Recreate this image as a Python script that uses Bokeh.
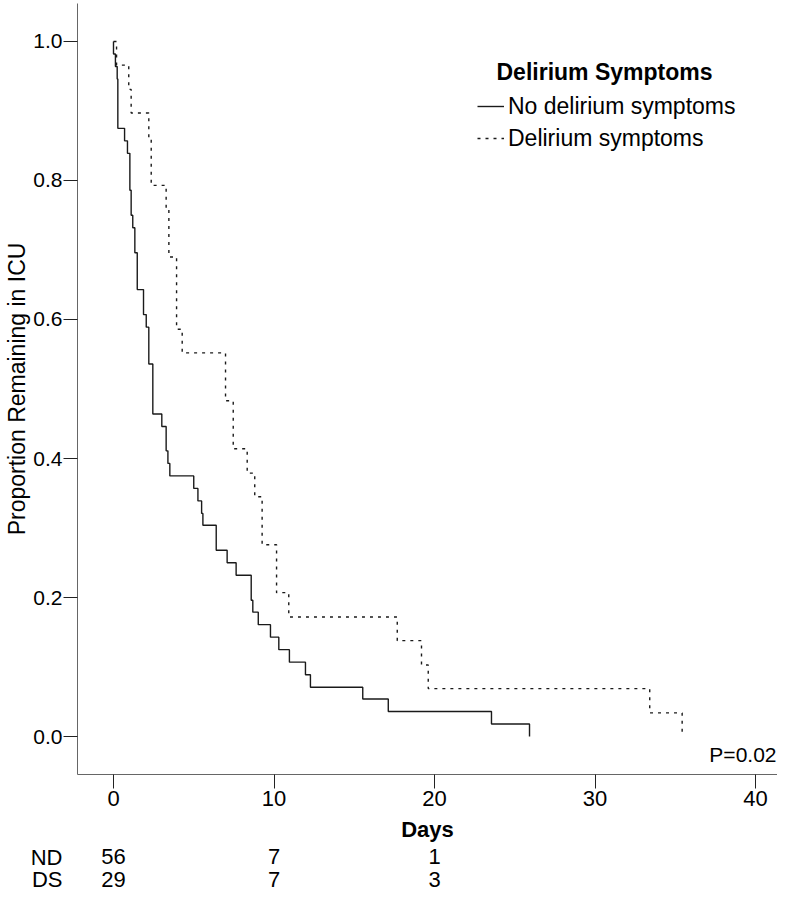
from bokeh.plotting import figure
from bokeh.layouts import column
from bokeh.models import (Range1d, FactorRange, FixedTicker, Label, ColumnDataSource,
                          Legend, LegendItem, PrintfTickFormatter)
from bokeh.core.properties import value
from bokeh.embed import file_html
from bokeh.resources import INLINE

# ---------------- data ----------------
series_names = ["No delirium symptoms", "Delirium symptoms"]
legend_title = "Delirium Symptoms"

nd_days = [0, 0.00, 0.12, 0.23, 0.27, 0.69, 0.87, 1.02, 1.10, 1.20,
           1.33, 1.48, 1.87, 2.04, 2.20, 2.45, 3.01, 3.28, 3.39, 3.51,
           5.00, 5.26, 5.49, 5.57, 6.40, 7.08, 7.64, 8.58, 8.68, 9.02,
           9.78, 10.30, 10.96, 11.96, 12.27, 15.53, 17.12, 23.55, 25.92]
nd_surv = [1.0, 0.982, 0.964, 0.946, 0.875, 0.857, 0.839, 0.786, 0.750, 0.732,
           0.696, 0.643, 0.607, 0.589, 0.536, 0.464, 0.446, 0.411, 0.393, 0.375,
           0.357, 0.339, 0.321, 0.304, 0.268, 0.250, 0.232, 0.196, 0.179, 0.161,
           0.143, 0.125, 0.107, 0.089, 0.071, 0.054, 0.036, 0.018, 0.0]

ds_days = [0, 0.19, 0.95, 1.10, 2.20, 2.35, 3.28, 3.45, 3.93, 4.28, 6.98,
           7.46, 8.33, 8.80, 9.26, 10.16, 10.92, 17.68, 19.19, 19.61, 33.41, 35.43]
ds_surv = [1.0, 0.966, 0.931, 0.897, 0.862, 0.793, 0.759, 0.690, 0.586, 0.552, 0.483,
           0.414, 0.379, 0.345, 0.276, 0.207, 0.172, 0.138, 0.103, 0.069, 0.034, 0.0]

x_ticks = [0, 10, 20, 30, 40]
y_ticks = [0.0, 0.2, 0.4, 0.6, 0.8, 1.0]

risk_days = [0, 10, 20]
nd_at_risk = ["56", "7", "1"]
ds_at_risk = ["29", "7", "3"]
risk_row_names = ["ND", "DS"]
p_value_text = "P=0.02"

SANS = "Liberation Sans"

# ---------------- layout constants (pixels) ----------------
W = 777
BORDER_L = 77
BORDER_T = 3
FRAME_B = 775                     # canvas y of frame bottom
Y_ONE_PX, Y_ZERO_PX = 41, 737     # canvas y of 1.0 and 0.0
MAIN_H = 844
TABLE_H = 47
PX_PER_DAY = 16.05
ZERO_PX = 113                     # canvas x of day 0

x_rng = Range1d((BORDER_L - ZERO_PX) / PX_PER_DAY, (W - ZERO_PX) / PX_PER_DAY)
u = Y_ZERO_PX - Y_ONE_PX
y_rng = Range1d(-(FRAME_B - Y_ZERO_PX) / u, 1 + (Y_ONE_PX - BORDER_T) / u)

# ---------------- main figure ----------------
p = figure(width=W, height=MAIN_H, output_backend="svg", toolbar_location=None,
           x_range=x_rng, y_range=y_rng,
           min_border_left=BORDER_L, min_border_right=0, min_border_top=BORDER_T,
           min_border_bottom=0)
p.outline_line_color = None
p.xgrid.visible = False
p.ygrid.visible = False

r1 = p.step(nd_days, nd_surv, mode="after", line_color="#1a1a1a", line_width=1.4)
r2 = p.step(ds_days, ds_surv, mode="after", line_color="#1a1a1a", line_width=1.4,
            line_dash="3 5")

xa = p.xaxis[0]
xa.ticker = FixedTicker(ticks=x_ticks)
xa.axis_label = "Days"
xa.axis_label_text_font = SANS
xa.axis_label_text_font_style = "bold"
xa.axis_label_text_font_size = "22px"
xa.axis_label_text_color = "black"
xa.axis_label_standoff = 8
xa.major_label_text_font = SANS
xa.major_label_text_font_size = "22px"
xa.major_label_text_color = "black"
xa.major_label_standoff = 2
xa.major_tick_out = 14
xa.major_tick_in = 0
xa.minor_tick_out = 0
xa.minor_tick_in = 0
xa.axis_line_color = "#666666"
xa.major_tick_line_color = "#222222"

ya = p.yaxis[0]
ya.ticker = FixedTicker(ticks=y_ticks)
ya.formatter = PrintfTickFormatter(format="%.1f")
ya.axis_label = "Proportion Remaining in ICU"
ya.axis_label_text_font = SANS
ya.axis_label_text_font_style = "normal"
ya.axis_label_text_font_size = "23px"
ya.axis_label_text_color = "black"
ya.axis_label_standoff = 0
ya.major_label_text_font = SANS
ya.major_label_text_font_size = "21px"
ya.major_label_text_color = "black"
ya.major_label_standoff = 1
ya.major_tick_out = 14
ya.major_tick_in = 0
ya.minor_tick_out = 0
ya.minor_tick_in = 0
ya.axis_line_color = "#666666"
ya.major_tick_line_color = "#222222"

legend = Legend(items=[LegendItem(label=series_names[0], renderers=[r1]),
                       LegendItem(label=series_names[1], renderers=[r2])],
                location=(400, 620), padding=0, margin=0, spacing=0,
                border_line_color=None, background_fill_alpha=0,
                glyph_width=27, glyph_height=32, label_standoff=4,
                label_text_font=SANS, label_text_font_size="23px",
                label_text_color="black")
p.add_layout(legend)

p.add_layout(Label(x=419, y=703, x_units="screen", y_units="screen",
                   text=legend_title, text_font=SANS, text_font_style="bold",
                   text_font_size="23px", text_baseline="middle", text_color="black"))

p.add_layout(Label(x=699, y=20, x_units="screen", y_units="screen",
                   text=p_value_text, text_font=SANS, text_font_size="21px",
                   text_align="right", text_baseline="middle", text_color="black"))

# ---------------- at-risk table ----------------
t = figure(width=W, height=TABLE_H, output_backend="svg", toolbar_location=None,
           x_range=x_rng, y_range=FactorRange(factors=list(reversed(risk_row_names))),
           x_axis_location=None,
           min_border_left=BORDER_L, min_border_right=0, min_border_top=0,
           min_border_bottom=0)
t.outline_line_color = None
t.xgrid.visible = False
t.ygrid.visible = False
ty = t.yaxis[0]
ty.axis_line_color = None
ty.major_tick_line_color = None
ty.minor_tick_line_color = None
ty.major_tick_out = 0
ty.major_tick_in = 0
ty.major_label_standoff = 15
ty.major_label_text_font = SANS
ty.major_label_text_font_size = "22px"
ty.major_label_text_color = "black"

tbl_src = ColumnDataSource(dict(
    day=risk_days + risk_days,
    n=nd_at_risk + ds_at_risk,
    row=[risk_row_names[0]] * len(risk_days) + [risk_row_names[1]] * len(risk_days)))
t.text(x="day", y="row", text="n", source=tbl_src, text_font=value(SANS),
       text_font_size="22px", text_align="center", text_baseline="middle",
       text_color="black")

layout = column(p, t, spacing=0)
open("out.html", "w").write(file_html(layout, INLINE))
